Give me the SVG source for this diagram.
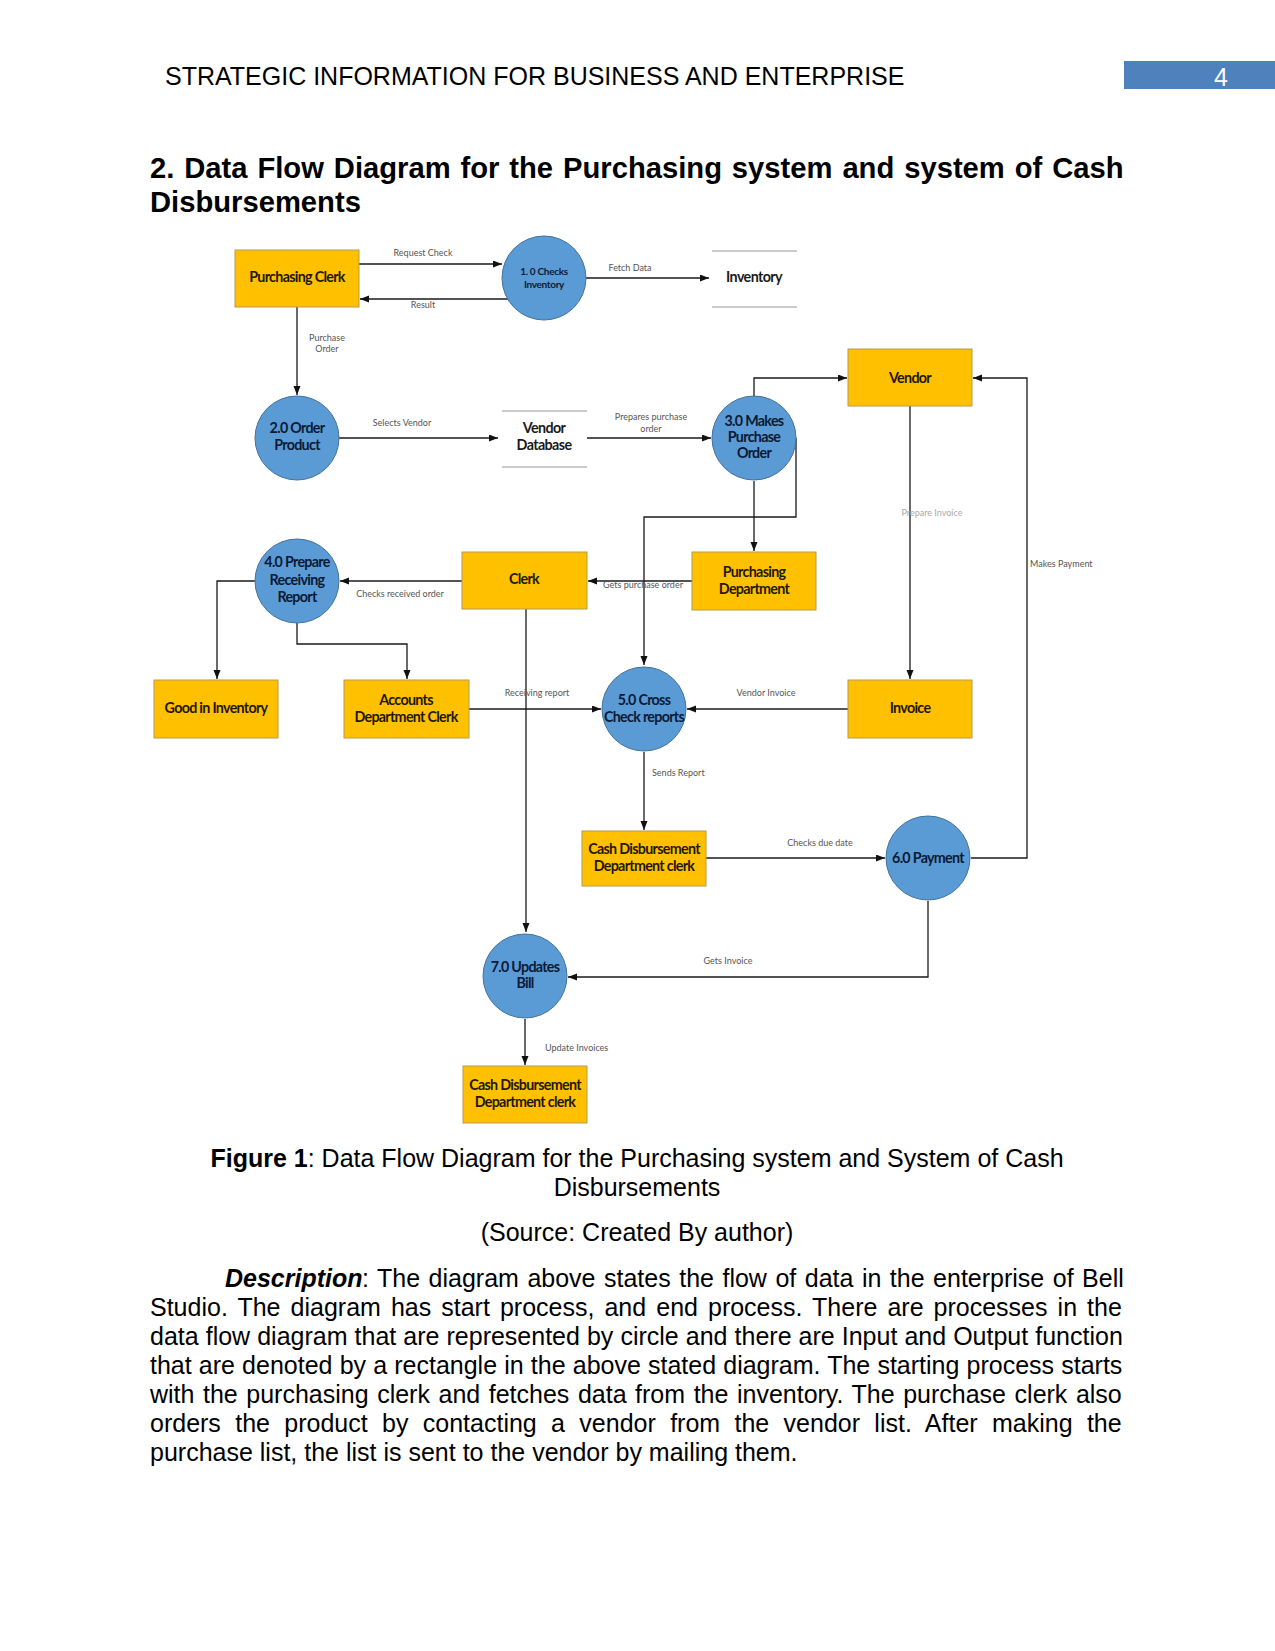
<svg xmlns="http://www.w3.org/2000/svg" width="1275" height="1651" viewBox="0 0 1275 1651">
<defs>
<marker id="ah" markerUnits="userSpaceOnUse" markerWidth="10" markerHeight="8" refX="9" refY="3.5" orient="auto">
<path d="M0,0 L9,3.5 L0,7 z" fill="#111"/>
</marker>
<style>
.page{font-family:"Liberation Sans",Arial,sans-serif;font-size:25px;fill:#000}
.box{fill:#FFC000;stroke:#b59a55;stroke-width:1}
.proc{fill:#5B9BD5;stroke:#41719C;stroke-width:1}
.store{stroke:#9a9a9a;stroke-width:1}
.bt{font-family:Lato,"Open Sans",sans-serif;font-weight:bold;font-size:14.3px;fill:#1f1805;text-anchor:middle;letter-spacing:-0.7px}
.ct{font-family:Lato,"Open Sans",sans-serif;font-weight:bold;font-size:14.3px;fill:#0a1a35;text-anchor:middle;letter-spacing:-0.7px}
.st{font-family:Lato,"Open Sans",sans-serif;font-weight:bold;font-size:14.3px;fill:#1a1a1a;text-anchor:middle;letter-spacing:-0.6px}
.lb{font-family:Lato,"Open Sans",sans-serif;font-size:9px;fill:#555;text-anchor:middle}
.lbl{font-family:Lato,"Open Sans",sans-serif;font-size:9px;fill:#555}
.conn path{fill:none;stroke:#1a1a1a;stroke-width:1.3;marker-end:url(#ah)}
</style>
</defs>
<rect width="1275" height="1651" fill="#fff"/>

<!-- page header -->
<text class="page" x="165" y="85">STRATEGIC INFORMATION FOR BUSINESS AND ENTERPRISE</text>
<rect x="1124" y="61" width="151" height="28" fill="#4F81BD"/>
<text class="page" x="1221" y="86" text-anchor="middle" style="fill:#fff">4</text>

<text class="page" x="150" y="178" style="font-size:29.2px;font-weight:bold;word-spacing:1.8px">2. Data Flow Diagram for the Purchasing system and system of Cash</text>
<text class="page" x="150" y="212" style="font-size:29.2px;font-weight:bold">Disbursements</text>

<!-- connectors -->
<g id="connectors" class="conn">
<path d="M359,264 H502"/>
<path d="M508,299 H360"/>
<path d="M586,278 H709"/>
<path d="M297,307 V395"/>
<path d="M339,438 H498"/>
<path d="M587,438 H711"/>
<path d="M754,396 V378 H847"/>
<path d="M754,481 V551"/>
<path d="M796,438 V517 H644 V665"/>
<path d="M692,581 H588"/>
<path d="M462,581 H340"/>
<path d="M255,581 H217 V679"/>
<path d="M297,623 V644 H407 V679"/>
<path d="M526,609 V932"/>
<path d="M469,709 H601"/>
<path d="M910,406 V679"/>
<path d="M848,709 H687"/>
<path d="M644,752 V830"/>
<path d="M706,858 H885"/>
<path d="M971,858 H1027 V378 H973"/>
<path d="M928,901 V977 H568"/>
<path d="M525,1019 V1065"/>
</g>

<!-- connector labels -->
<g id="labels">
<text class="lb" x="423" y="256">Request Check</text>
<text class="lb" x="423" y="308">Result</text>
<text class="lb" x="327" y="341">Purchase</text>
<text class="lb" x="327" y="352">Order</text>
<text class="lb" x="630" y="271">Fetch Data</text>
<text class="lb" x="402" y="426">Selects Vendor</text>
<text class="lb" x="651" y="420">Prepares purchase</text>
<text class="lb" x="651" y="432">order</text>
<text class="lb" x="400" y="597">Checks received order</text>
<text class="lb" x="643" y="588">Gets purchase order</text>
<text class="lb" x="932" y="516" style="fill:#aaa">Prepare Invoice</text>
<text class="lbl" x="1030" y="567">Makes Payment</text>
<text class="lb" x="537" y="696">Receiving report</text>
<text class="lb" x="766" y="696">Vendor Invoice</text>
<text class="lbl" x="652" y="776">Sends Report</text>
<text class="lb" x="820" y="846">Checks due date</text>
<text class="lb" x="728" y="964">Gets Invoice</text>
<text class="lbl" x="545" y="1051">Update Invoices</text>
</g>

<!-- nodes -->
<g id="purchasing-clerk"><rect class="box" x="235" y="250" width="124" height="57"/><text class="bt" x="297" y="282">Purchasing Clerk</text></g>
<g id="p1"><circle class="proc" cx="544" cy="278" r="42"/><text class="ct" x="544" y="275" style="font-size:10px;letter-spacing:-0.3px">1. 0 Checks</text><text class="ct" x="544" y="288" style="font-size:10px;letter-spacing:-0.3px">Inventory</text></g>
<g id="inventory"><line class="store" x1="712" y1="251" x2="797" y2="251"/><line class="store" x1="712" y1="307" x2="797" y2="307"/><text class="st" x="754" y="282">Inventory</text></g>
<g id="p2"><circle class="proc" cx="297" cy="438" r="42"/><text class="ct" x="297" y="433">2.0 Order</text><text class="ct" x="297" y="450">Product</text></g>
<g id="vendor-db"><line class="store" x1="502" y1="411" x2="587" y2="411"/><line class="store" x1="502" y1="467" x2="587" y2="467"/><text class="st" x="544" y="433">Vendor</text><text class="st" x="544" y="450">Database</text></g>
<g id="p3"><circle class="proc" cx="754" cy="438" r="42"/><text class="ct" x="754" y="426">3.0 Makes</text><text class="ct" x="754" y="442">Purchase</text><text class="ct" x="754" y="458">Order</text></g>
<g id="vendor"><rect class="box" x="848" y="349" width="124" height="57"/><text class="bt" x="910" y="383">Vendor</text></g>
<g id="p4"><circle class="proc" cx="297" cy="581" r="42"/><text class="ct" x="297" y="567">4.0 Prepare</text><text class="ct" x="297" y="585">Receiving</text><text class="ct" x="297" y="602">Report</text></g>
<g id="clerk"><rect class="box" x="462" y="552" width="125" height="57"/><text class="bt" x="524" y="584">Clerk</text></g>
<g id="purchasing-dept"><rect class="box" x="692" y="552" width="124" height="58"/><text class="bt" x="754" y="577">Purchasing</text><text class="bt" x="754" y="594">Department</text></g>
<g id="good-inventory"><rect class="box" x="154" y="680" width="124" height="58"/><text class="bt" x="216" y="713">Good in Inventory</text></g>
<g id="accounts"><rect class="box" x="344" y="680" width="125" height="58"/><text class="bt" x="406" y="705">Accounts</text><text class="bt" x="406" y="722">Department Clerk</text></g>
<g id="p5"><circle class="proc" cx="644" cy="709" r="42"/><text class="ct" x="644" y="705">5.0 Cross</text><text class="ct" x="644" y="722">Check reports</text></g>
<g id="invoice"><rect class="box" x="848" y="680" width="124" height="58"/><text class="bt" x="910" y="713">Invoice</text></g>
<g id="cash1"><rect class="box" x="582" y="831" width="124" height="55"/><text class="bt" x="644" y="854">Cash Disbursement</text><text class="bt" x="644" y="871">Department clerk</text></g>
<g id="p6"><circle class="proc" cx="928" cy="858" r="42"/><text class="ct" x="928" y="863">6.0 Payment</text></g>
<g id="p7"><circle class="proc" cx="525" cy="976" r="42"/><text class="ct" x="525" y="972">7.0 Updates</text><text class="ct" x="525" y="988">Bill</text></g>
<g id="cash2"><rect class="box" x="463" y="1066" width="124" height="57"/><text class="bt" x="525" y="1090">Cash Disbursement</text><text class="bt" x="525" y="1107">Department clerk</text></g>

<!-- caption and description -->
<text class="page" x="637" y="1167" text-anchor="middle"><tspan font-weight="bold">Figure 1</tspan>: Data Flow Diagram for the Purchasing system and System of Cash</text>
<text class="page" x="637" y="1196" text-anchor="middle">Disbursements</text>
<text class="page" x="637" y="1241" text-anchor="middle">(Source: Created By author)</text>

<text class="page" x="225" y="1287" font-weight="bold" font-style="italic">Description</text>
<text class="page" x="362" y="1287" style="word-spacing:1.55px">: The diagram above states the flow of data in the enterprise of Bell</text>
<text class="page" x="150" y="1316" style="word-spacing:3.1px">Studio. The diagram has start process, and end process. There are processes in the</text>
<text class="page" x="150" y="1345" style="word-spacing:0.1px">data flow diagram that are represented by circle and there are Input and Output function</text>
<text class="page" x="150" y="1374" style="word-spacing:0.2px">that are denoted by a rectangle in the above stated diagram. The starting process starts</text>
<text class="page" x="150" y="1403" style="word-spacing:1.6px">with the purchasing clerk and fetches data from the inventory. The purchase clerk also</text>
<text class="page" x="150" y="1432" style="word-spacing:7.4px">orders the product by contacting a vendor from the vendor list. After making the</text>
<text class="page" x="150" y="1461">purchase list, the list is sent to the vendor by mailing them.</text>
</svg>
